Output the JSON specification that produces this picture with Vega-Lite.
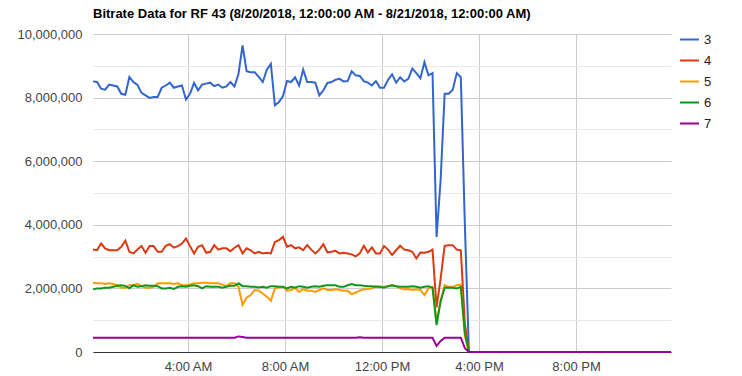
{
"width": 578, "height": 318,
"autosize": "none",
"padding": {"left": 93, "top": 34, "right": 71, "bottom": 24},
"background": "white",
"title": {"text": "Bitrate Data for RF 43 (8/20/2018, 12:00:00 AM - 8/21/2018, 12:00:00 AM)", "anchor": "start", "frame": "group", "fontSize": 13, "fontWeight": "bold", "color": "#000000", "offset": 7},
"config": {"view": {"stroke": null}, "font": "Liberation Sans"},
"data": {"values": [
{"s":"3","t":"2018-08-20T00:05Z","v":8510000},{"s":"3","t":"2018-08-20T00:15Z","v":8490000},{"s":"3","t":"2018-08-20T00:25Z","v":8280000},{"s":"3","t":"2018-08-20T00:35Z","v":8250000},{"s":"3","t":"2018-08-20T00:45Z","v":8410000},{"s":"3","t":"2018-08-20T00:55Z","v":8380000},
{"s":"3","t":"2018-08-20T01:05Z","v":8350000},{"s":"3","t":"2018-08-20T01:15Z","v":8120000},{"s":"3","t":"2018-08-20T01:25Z","v":8090000},{"s":"3","t":"2018-08-20T01:35Z","v":8650000},{"s":"3","t":"2018-08-20T01:45Z","v":8490000},{"s":"3","t":"2018-08-20T01:55Z","v":8400000},
{"s":"3","t":"2018-08-20T02:05Z","v":8150000},{"s":"3","t":"2018-08-20T02:15Z","v":8070000},{"s":"3","t":"2018-08-20T02:25Z","v":7990000},{"s":"3","t":"2018-08-20T02:35Z","v":8020000},{"s":"3","t":"2018-08-20T02:45Z","v":8020000},{"s":"3","t":"2018-08-20T02:55Z","v":8310000},
{"s":"3","t":"2018-08-20T03:05Z","v":8380000},{"s":"3","t":"2018-08-20T03:15Z","v":8470000},{"s":"3","t":"2018-08-20T03:25Z","v":8310000},{"s":"3","t":"2018-08-20T03:35Z","v":8350000},{"s":"3","t":"2018-08-20T03:45Z","v":8380000},{"s":"3","t":"2018-08-20T03:55Z","v":7940000},
{"s":"3","t":"2018-08-20T04:05Z","v":8120000},{"s":"3","t":"2018-08-20T04:15Z","v":8460000},{"s":"3","t":"2018-08-20T04:25Z","v":8230000},{"s":"3","t":"2018-08-20T04:35Z","v":8410000},{"s":"3","t":"2018-08-20T04:45Z","v":8440000},{"s":"3","t":"2018-08-20T04:55Z","v":8470000},
{"s":"3","t":"2018-08-20T05:05Z","v":8360000},{"s":"3","t":"2018-08-20T05:15Z","v":8410000},{"s":"3","t":"2018-08-20T05:25Z","v":8310000},{"s":"3","t":"2018-08-20T05:35Z","v":8350000},{"s":"3","t":"2018-08-20T05:45Z","v":8490000},{"s":"3","t":"2018-08-20T05:55Z","v":8350000},
{"s":"3","t":"2018-08-20T06:05Z","v":8750000},{"s":"3","t":"2018-08-20T06:15Z","v":9640000},{"s":"3","t":"2018-08-20T06:25Z","v":8830000},{"s":"3","t":"2018-08-20T06:35Z","v":8800000},{"s":"3","t":"2018-08-20T06:45Z","v":8800000},{"s":"3","t":"2018-08-20T06:55Z","v":8650000},
{"s":"3","t":"2018-08-20T07:05Z","v":8490000},{"s":"3","t":"2018-08-20T07:15Z","v":8880000},{"s":"3","t":"2018-08-20T07:25Z","v":9060000},{"s":"3","t":"2018-08-20T07:35Z","v":7760000},{"s":"3","t":"2018-08-20T07:45Z","v":7860000},{"s":"3","t":"2018-08-20T07:55Z","v":8050000},
{"s":"3","t":"2018-08-20T08:05Z","v":8520000},{"s":"3","t":"2018-08-20T08:15Z","v":8490000},{"s":"3","t":"2018-08-20T08:25Z","v":8640000},{"s":"3","t":"2018-08-20T08:35Z","v":8380000},{"s":"3","t":"2018-08-20T08:45Z","v":8880000},{"s":"3","t":"2018-08-20T08:55Z","v":8490000},
{"s":"3","t":"2018-08-20T09:05Z","v":8490000},{"s":"3","t":"2018-08-20T09:15Z","v":8470000},{"s":"3","t":"2018-08-20T09:25Z","v":8070000},{"s":"3","t":"2018-08-20T09:35Z","v":8230000},{"s":"3","t":"2018-08-20T09:45Z","v":8460000},{"s":"3","t":"2018-08-20T09:55Z","v":8490000},
{"s":"3","t":"2018-08-20T10:05Z","v":8560000},{"s":"3","t":"2018-08-20T10:15Z","v":8590000},{"s":"3","t":"2018-08-20T10:25Z","v":8510000},{"s":"3","t":"2018-08-20T10:35Z","v":8520000},{"s":"3","t":"2018-08-20T10:45Z","v":8830000},{"s":"3","t":"2018-08-20T10:55Z","v":8700000},
{"s":"3","t":"2018-08-20T11:05Z","v":8680000},{"s":"3","t":"2018-08-20T11:15Z","v":8520000},{"s":"3","t":"2018-08-20T11:25Z","v":8470000},{"s":"3","t":"2018-08-20T11:35Z","v":8380000},{"s":"3","t":"2018-08-20T11:45Z","v":8520000},{"s":"3","t":"2018-08-20T11:55Z","v":8310000},
{"s":"3","t":"2018-08-20T12:05Z","v":8310000},{"s":"3","t":"2018-08-20T12:15Z","v":8560000},{"s":"3","t":"2018-08-20T12:25Z","v":8730000},{"s":"3","t":"2018-08-20T12:35Z","v":8470000},{"s":"3","t":"2018-08-20T12:45Z","v":8640000},{"s":"3","t":"2018-08-20T12:55Z","v":8510000},
{"s":"3","t":"2018-08-20T13:05Z","v":8590000},{"s":"3","t":"2018-08-20T13:15Z","v":8910000},{"s":"3","t":"2018-08-20T13:25Z","v":8770000},{"s":"3","t":"2018-08-20T13:35Z","v":8610000},{"s":"3","t":"2018-08-20T13:45Z","v":9110000},{"s":"3","t":"2018-08-20T13:55Z","v":8700000},
{"s":"3","t":"2018-08-20T14:05Z","v":8770000},{"s":"3","t":"2018-08-20T14:15Z","v":3620000},{"s":"3","t":"2018-08-20T14:25Z","v":5400000},{"s":"3","t":"2018-08-20T14:35Z","v":8120000},{"s":"3","t":"2018-08-20T14:45Z","v":8120000},{"s":"3","t":"2018-08-20T14:55Z","v":8250000},
{"s":"3","t":"2018-08-20T15:05Z","v":8770000},{"s":"3","t":"2018-08-20T15:15Z","v":8640000},{"s":"3","t":"2018-08-20T15:25Z","v":4000000},{"s":"3","t":"2018-08-20T15:35Z","v":0},{"s":"3","t":"2018-08-20T15:45Z","v":0},{"s":"3","t":"2018-08-20T15:55Z","v":0},
{"s":"3","t":"2018-08-20T16:05Z","v":0},{"s":"3","t":"2018-08-20T16:15Z","v":0},{"s":"3","t":"2018-08-20T16:25Z","v":0},{"s":"3","t":"2018-08-20T16:35Z","v":0},{"s":"3","t":"2018-08-20T16:45Z","v":0},{"s":"3","t":"2018-08-20T16:55Z","v":0},
{"s":"3","t":"2018-08-20T17:05Z","v":0},{"s":"3","t":"2018-08-20T17:15Z","v":0},{"s":"3","t":"2018-08-20T17:25Z","v":0},{"s":"3","t":"2018-08-20T17:35Z","v":0},{"s":"3","t":"2018-08-20T17:45Z","v":0},{"s":"3","t":"2018-08-20T17:55Z","v":0},
{"s":"3","t":"2018-08-20T18:05Z","v":0},{"s":"3","t":"2018-08-20T18:15Z","v":0},{"s":"3","t":"2018-08-20T18:25Z","v":0},{"s":"3","t":"2018-08-20T18:35Z","v":0},{"s":"3","t":"2018-08-20T18:45Z","v":0},{"s":"3","t":"2018-08-20T18:55Z","v":0},
{"s":"3","t":"2018-08-20T19:05Z","v":0},{"s":"3","t":"2018-08-20T19:15Z","v":0},{"s":"3","t":"2018-08-20T19:25Z","v":0},{"s":"3","t":"2018-08-20T19:35Z","v":0},{"s":"3","t":"2018-08-20T19:45Z","v":0},{"s":"3","t":"2018-08-20T19:55Z","v":0},
{"s":"3","t":"2018-08-20T20:05Z","v":0},{"s":"3","t":"2018-08-20T20:15Z","v":0},{"s":"3","t":"2018-08-20T20:25Z","v":0},{"s":"3","t":"2018-08-20T20:35Z","v":0},{"s":"3","t":"2018-08-20T20:45Z","v":0},{"s":"3","t":"2018-08-20T20:55Z","v":0},
{"s":"3","t":"2018-08-20T21:05Z","v":0},{"s":"3","t":"2018-08-20T21:15Z","v":0},{"s":"3","t":"2018-08-20T21:25Z","v":0},{"s":"3","t":"2018-08-20T21:35Z","v":0},{"s":"3","t":"2018-08-20T21:45Z","v":0},{"s":"3","t":"2018-08-20T21:55Z","v":0},
{"s":"3","t":"2018-08-20T22:05Z","v":0},{"s":"3","t":"2018-08-20T22:15Z","v":0},{"s":"3","t":"2018-08-20T22:25Z","v":0},{"s":"3","t":"2018-08-20T22:35Z","v":0},{"s":"3","t":"2018-08-20T22:45Z","v":0},{"s":"3","t":"2018-08-20T22:55Z","v":0},
{"s":"3","t":"2018-08-20T23:05Z","v":0},{"s":"3","t":"2018-08-20T23:15Z","v":0},{"s":"3","t":"2018-08-20T23:25Z","v":0},{"s":"3","t":"2018-08-20T23:35Z","v":0},{"s":"3","t":"2018-08-20T23:45Z","v":0},{"s":"3","t":"2018-08-20T23:55Z","v":0},
{"s":"4","t":"2018-08-20T00:05Z","v":3220000},{"s":"4","t":"2018-08-20T00:15Z","v":3200000},{"s":"4","t":"2018-08-20T00:25Z","v":3410000},{"s":"4","t":"2018-08-20T00:35Z","v":3260000},{"s":"4","t":"2018-08-20T00:45Z","v":3200000},{"s":"4","t":"2018-08-20T00:55Z","v":3200000},
{"s":"4","t":"2018-08-20T01:05Z","v":3200000},{"s":"4","t":"2018-08-20T01:15Z","v":3310000},{"s":"4","t":"2018-08-20T01:25Z","v":3500000},{"s":"4","t":"2018-08-20T01:35Z","v":3150000},{"s":"4","t":"2018-08-20T01:45Z","v":3100000},{"s":"4","t":"2018-08-20T01:55Z","v":3220000},
{"s":"4","t":"2018-08-20T02:05Z","v":3330000},{"s":"4","t":"2018-08-20T02:15Z","v":3120000},{"s":"4","t":"2018-08-20T02:25Z","v":3330000},{"s":"4","t":"2018-08-20T02:35Z","v":3330000},{"s":"4","t":"2018-08-20T02:45Z","v":3150000},{"s":"4","t":"2018-08-20T02:55Z","v":3150000},
{"s":"4","t":"2018-08-20T03:05Z","v":3340000},{"s":"4","t":"2018-08-20T03:15Z","v":3390000},{"s":"4","t":"2018-08-20T03:25Z","v":3280000},{"s":"4","t":"2018-08-20T03:35Z","v":3330000},{"s":"4","t":"2018-08-20T03:45Z","v":3410000},{"s":"4","t":"2018-08-20T03:55Z","v":3570000},
{"s":"4","t":"2018-08-20T04:05Z","v":3330000},{"s":"4","t":"2018-08-20T04:15Z","v":3100000},{"s":"4","t":"2018-08-20T04:25Z","v":3310000},{"s":"4","t":"2018-08-20T04:35Z","v":3360000},{"s":"4","t":"2018-08-20T04:45Z","v":3120000},{"s":"4","t":"2018-08-20T04:55Z","v":3150000},
{"s":"4","t":"2018-08-20T05:05Z","v":3360000},{"s":"4","t":"2018-08-20T05:15Z","v":3220000},{"s":"4","t":"2018-08-20T05:25Z","v":3260000},{"s":"4","t":"2018-08-20T05:35Z","v":3260000},{"s":"4","t":"2018-08-20T05:45Z","v":3170000},{"s":"4","t":"2018-08-20T05:55Z","v":3280000},
{"s":"4","t":"2018-08-20T06:05Z","v":3360000},{"s":"4","t":"2018-08-20T06:15Z","v":3100000},{"s":"4","t":"2018-08-20T06:25Z","v":3260000},{"s":"4","t":"2018-08-20T06:35Z","v":3200000},{"s":"4","t":"2018-08-20T06:45Z","v":3100000},{"s":"4","t":"2018-08-20T06:55Z","v":3150000},
{"s":"4","t":"2018-08-20T07:05Z","v":3100000},{"s":"4","t":"2018-08-20T07:15Z","v":3120000},{"s":"4","t":"2018-08-20T07:25Z","v":3100000},{"s":"4","t":"2018-08-20T07:35Z","v":3460000},{"s":"4","t":"2018-08-20T07:45Z","v":3520000},{"s":"4","t":"2018-08-20T07:55Z","v":3620000},
{"s":"4","t":"2018-08-20T08:05Z","v":3310000},{"s":"4","t":"2018-08-20T08:15Z","v":3360000},{"s":"4","t":"2018-08-20T08:25Z","v":3260000},{"s":"4","t":"2018-08-20T08:35Z","v":3290000},{"s":"4","t":"2018-08-20T08:45Z","v":3200000},{"s":"4","t":"2018-08-20T08:55Z","v":3360000},
{"s":"4","t":"2018-08-20T09:05Z","v":3220000},{"s":"4","t":"2018-08-20T09:15Z","v":3100000},{"s":"4","t":"2018-08-20T09:25Z","v":3220000},{"s":"4","t":"2018-08-20T09:35Z","v":3390000},{"s":"4","t":"2018-08-20T09:45Z","v":3130000},{"s":"4","t":"2018-08-20T09:55Z","v":3150000},
{"s":"4","t":"2018-08-20T10:05Z","v":3180000},{"s":"4","t":"2018-08-20T10:15Z","v":3100000},{"s":"4","t":"2018-08-20T10:25Z","v":3120000},{"s":"4","t":"2018-08-20T10:35Z","v":3100000},{"s":"4","t":"2018-08-20T10:45Z","v":3070000},{"s":"4","t":"2018-08-20T10:55Z","v":3010000},
{"s":"4","t":"2018-08-20T11:05Z","v":3100000},{"s":"4","t":"2018-08-20T11:15Z","v":3340000},{"s":"4","t":"2018-08-20T11:25Z","v":3130000},{"s":"4","t":"2018-08-20T11:35Z","v":3290000},{"s":"4","t":"2018-08-20T11:45Z","v":3100000},{"s":"4","t":"2018-08-20T11:55Z","v":3100000},
{"s":"4","t":"2018-08-20T12:05Z","v":3330000},{"s":"4","t":"2018-08-20T12:15Z","v":3220000},{"s":"4","t":"2018-08-20T12:25Z","v":3050000},{"s":"4","t":"2018-08-20T12:35Z","v":3200000},{"s":"4","t":"2018-08-20T12:45Z","v":3340000},{"s":"4","t":"2018-08-20T12:55Z","v":3220000},
{"s":"4","t":"2018-08-20T13:05Z","v":3200000},{"s":"4","t":"2018-08-20T13:15Z","v":3150000},{"s":"4","t":"2018-08-20T13:25Z","v":2940000},{"s":"4","t":"2018-08-20T13:35Z","v":3130000},{"s":"4","t":"2018-08-20T13:45Z","v":3120000},{"s":"4","t":"2018-08-20T13:55Z","v":3150000},
{"s":"4","t":"2018-08-20T14:05Z","v":3220000},{"s":"4","t":"2018-08-20T14:15Z","v":1400000},{"s":"4","t":"2018-08-20T14:25Z","v":2300000},{"s":"4","t":"2018-08-20T14:35Z","v":3340000},{"s":"4","t":"2018-08-20T14:45Z","v":3360000},{"s":"4","t":"2018-08-20T14:55Z","v":3360000},
{"s":"4","t":"2018-08-20T15:05Z","v":3220000},{"s":"4","t":"2018-08-20T15:15Z","v":3200000},{"s":"4","t":"2018-08-20T15:25Z","v":900000},{"s":"4","t":"2018-08-20T15:35Z","v":0},{"s":"4","t":"2018-08-20T15:45Z","v":0},{"s":"4","t":"2018-08-20T15:55Z","v":0},
{"s":"4","t":"2018-08-20T16:05Z","v":0},{"s":"4","t":"2018-08-20T16:15Z","v":0},{"s":"4","t":"2018-08-20T16:25Z","v":0},{"s":"4","t":"2018-08-20T16:35Z","v":0},{"s":"4","t":"2018-08-20T16:45Z","v":0},{"s":"4","t":"2018-08-20T16:55Z","v":0},
{"s":"4","t":"2018-08-20T17:05Z","v":0},{"s":"4","t":"2018-08-20T17:15Z","v":0},{"s":"4","t":"2018-08-20T17:25Z","v":0},{"s":"4","t":"2018-08-20T17:35Z","v":0},{"s":"4","t":"2018-08-20T17:45Z","v":0},{"s":"4","t":"2018-08-20T17:55Z","v":0},
{"s":"4","t":"2018-08-20T18:05Z","v":0},{"s":"4","t":"2018-08-20T18:15Z","v":0},{"s":"4","t":"2018-08-20T18:25Z","v":0},{"s":"4","t":"2018-08-20T18:35Z","v":0},{"s":"4","t":"2018-08-20T18:45Z","v":0},{"s":"4","t":"2018-08-20T18:55Z","v":0},
{"s":"4","t":"2018-08-20T19:05Z","v":0},{"s":"4","t":"2018-08-20T19:15Z","v":0},{"s":"4","t":"2018-08-20T19:25Z","v":0},{"s":"4","t":"2018-08-20T19:35Z","v":0},{"s":"4","t":"2018-08-20T19:45Z","v":0},{"s":"4","t":"2018-08-20T19:55Z","v":0},
{"s":"4","t":"2018-08-20T20:05Z","v":0},{"s":"4","t":"2018-08-20T20:15Z","v":0},{"s":"4","t":"2018-08-20T20:25Z","v":0},{"s":"4","t":"2018-08-20T20:35Z","v":0},{"s":"4","t":"2018-08-20T20:45Z","v":0},{"s":"4","t":"2018-08-20T20:55Z","v":0},
{"s":"4","t":"2018-08-20T21:05Z","v":0},{"s":"4","t":"2018-08-20T21:15Z","v":0},{"s":"4","t":"2018-08-20T21:25Z","v":0},{"s":"4","t":"2018-08-20T21:35Z","v":0},{"s":"4","t":"2018-08-20T21:45Z","v":0},{"s":"4","t":"2018-08-20T21:55Z","v":0},
{"s":"4","t":"2018-08-20T22:05Z","v":0},{"s":"4","t":"2018-08-20T22:15Z","v":0},{"s":"4","t":"2018-08-20T22:25Z","v":0},{"s":"4","t":"2018-08-20T22:35Z","v":0},{"s":"4","t":"2018-08-20T22:45Z","v":0},{"s":"4","t":"2018-08-20T22:55Z","v":0},
{"s":"4","t":"2018-08-20T23:05Z","v":0},{"s":"4","t":"2018-08-20T23:15Z","v":0},{"s":"4","t":"2018-08-20T23:25Z","v":0},{"s":"4","t":"2018-08-20T23:35Z","v":0},{"s":"4","t":"2018-08-20T23:45Z","v":0},{"s":"4","t":"2018-08-20T23:55Z","v":0},
{"s":"5","t":"2018-08-20T00:05Z","v":2180000},{"s":"5","t":"2018-08-20T00:15Z","v":2160000},{"s":"5","t":"2018-08-20T00:25Z","v":2160000},{"s":"5","t":"2018-08-20T00:35Z","v":2140000},{"s":"5","t":"2018-08-20T00:45Z","v":2160000},{"s":"5","t":"2018-08-20T00:55Z","v":2140000},
{"s":"5","t":"2018-08-20T01:05Z","v":2100000},{"s":"5","t":"2018-08-20T01:15Z","v":2020000},{"s":"5","t":"2018-08-20T01:25Z","v":2020000},{"s":"5","t":"2018-08-20T01:35Z","v":2100000},{"s":"5","t":"2018-08-20T01:45Z","v":2100000},{"s":"5","t":"2018-08-20T01:55Z","v":2140000},
{"s":"5","t":"2018-08-20T02:05Z","v":2070000},{"s":"5","t":"2018-08-20T02:15Z","v":2020000},{"s":"5","t":"2018-08-20T02:25Z","v":2020000},{"s":"5","t":"2018-08-20T02:35Z","v":2050000},{"s":"5","t":"2018-08-20T02:45Z","v":2160000},{"s":"5","t":"2018-08-20T02:55Z","v":2160000},
{"s":"5","t":"2018-08-20T03:05Z","v":2160000},{"s":"5","t":"2018-08-20T03:15Z","v":2160000},{"s":"5","t":"2018-08-20T03:25Z","v":2140000},{"s":"5","t":"2018-08-20T03:35Z","v":2160000},{"s":"5","t":"2018-08-20T03:45Z","v":2100000},{"s":"5","t":"2018-08-20T03:55Z","v":2100000},
{"s":"5","t":"2018-08-20T04:05Z","v":2120000},{"s":"5","t":"2018-08-20T04:15Z","v":2160000},{"s":"5","t":"2018-08-20T04:25Z","v":2160000},{"s":"5","t":"2018-08-20T04:35Z","v":2180000},{"s":"5","t":"2018-08-20T04:45Z","v":2180000},{"s":"5","t":"2018-08-20T04:55Z","v":2160000},
{"s":"5","t":"2018-08-20T05:05Z","v":2160000},{"s":"5","t":"2018-08-20T05:15Z","v":2160000},{"s":"5","t":"2018-08-20T05:25Z","v":2120000},{"s":"5","t":"2018-08-20T05:35Z","v":2070000},{"s":"5","t":"2018-08-20T05:45Z","v":2160000},{"s":"5","t":"2018-08-20T05:55Z","v":2160000},
{"s":"5","t":"2018-08-20T06:05Z","v":2050000},{"s":"5","t":"2018-08-20T06:15Z","v":1480000},{"s":"5","t":"2018-08-20T06:25Z","v":1710000},{"s":"5","t":"2018-08-20T06:35Z","v":1790000},{"s":"5","t":"2018-08-20T06:45Z","v":1950000},{"s":"5","t":"2018-08-20T06:55Z","v":1930000},
{"s":"5","t":"2018-08-20T07:05Z","v":1840000},{"s":"5","t":"2018-08-20T07:15Z","v":1740000},{"s":"5","t":"2018-08-20T07:25Z","v":1610000},{"s":"5","t":"2018-08-20T07:35Z","v":2000000},{"s":"5","t":"2018-08-20T07:45Z","v":2030000},{"s":"5","t":"2018-08-20T07:55Z","v":2050000},
{"s":"5","t":"2018-08-20T08:05Z","v":1930000},{"s":"5","t":"2018-08-20T08:15Z","v":1950000},{"s":"5","t":"2018-08-20T08:25Z","v":2020000},{"s":"5","t":"2018-08-20T08:35Z","v":1890000},{"s":"5","t":"2018-08-20T08:45Z","v":1980000},{"s":"5","t":"2018-08-20T08:55Z","v":1930000},
{"s":"5","t":"2018-08-20T09:05Z","v":1930000},{"s":"5","t":"2018-08-20T09:15Z","v":1890000},{"s":"5","t":"2018-08-20T09:25Z","v":1950000},{"s":"5","t":"2018-08-20T09:35Z","v":2000000},{"s":"5","t":"2018-08-20T09:45Z","v":1950000},{"s":"5","t":"2018-08-20T09:55Z","v":1950000},
{"s":"5","t":"2018-08-20T10:05Z","v":1970000},{"s":"5","t":"2018-08-20T10:15Z","v":1950000},{"s":"5","t":"2018-08-20T10:25Z","v":1930000},{"s":"5","t":"2018-08-20T10:35Z","v":1930000},{"s":"5","t":"2018-08-20T10:45Z","v":1820000},{"s":"5","t":"2018-08-20T10:55Z","v":1870000},
{"s":"5","t":"2018-08-20T11:05Z","v":1930000},{"s":"5","t":"2018-08-20T11:15Z","v":1970000},{"s":"5","t":"2018-08-20T11:25Z","v":1980000},{"s":"5","t":"2018-08-20T11:35Z","v":2000000},{"s":"5","t":"2018-08-20T11:45Z","v":2070000},{"s":"5","t":"2018-08-20T11:55Z","v":2050000},
{"s":"5","t":"2018-08-20T12:05Z","v":2050000},{"s":"5","t":"2018-08-20T12:15Z","v":2070000},{"s":"5","t":"2018-08-20T12:25Z","v":2100000},{"s":"5","t":"2018-08-20T12:35Z","v":2070000},{"s":"5","t":"2018-08-20T12:45Z","v":2000000},{"s":"5","t":"2018-08-20T12:55Z","v":1970000},
{"s":"5","t":"2018-08-20T13:05Z","v":1980000},{"s":"5","t":"2018-08-20T13:15Z","v":1950000},{"s":"5","t":"2018-08-20T13:25Z","v":1970000},{"s":"5","t":"2018-08-20T13:35Z","v":1950000},{"s":"5","t":"2018-08-20T13:45Z","v":1790000},{"s":"5","t":"2018-08-20T13:55Z","v":2000000},
{"s":"5","t":"2018-08-20T14:05Z","v":2050000},{"s":"5","t":"2018-08-20T14:15Z","v":950000},{"s":"5","t":"2018-08-20T14:25Z","v":1600000},{"s":"5","t":"2018-08-20T14:35Z","v":2100000},{"s":"5","t":"2018-08-20T14:45Z","v":2050000},{"s":"5","t":"2018-08-20T14:55Z","v":2050000},
{"s":"5","t":"2018-08-20T15:05Z","v":2100000},{"s":"5","t":"2018-08-20T15:15Z","v":2120000},{"s":"5","t":"2018-08-20T15:25Z","v":500000},{"s":"5","t":"2018-08-20T15:35Z","v":0},{"s":"5","t":"2018-08-20T15:45Z","v":0},{"s":"5","t":"2018-08-20T15:55Z","v":0},
{"s":"5","t":"2018-08-20T16:05Z","v":0},{"s":"5","t":"2018-08-20T16:15Z","v":0},{"s":"5","t":"2018-08-20T16:25Z","v":0},{"s":"5","t":"2018-08-20T16:35Z","v":0},{"s":"5","t":"2018-08-20T16:45Z","v":0},{"s":"5","t":"2018-08-20T16:55Z","v":0},
{"s":"5","t":"2018-08-20T17:05Z","v":0},{"s":"5","t":"2018-08-20T17:15Z","v":0},{"s":"5","t":"2018-08-20T17:25Z","v":0},{"s":"5","t":"2018-08-20T17:35Z","v":0},{"s":"5","t":"2018-08-20T17:45Z","v":0},{"s":"5","t":"2018-08-20T17:55Z","v":0},
{"s":"5","t":"2018-08-20T18:05Z","v":0},{"s":"5","t":"2018-08-20T18:15Z","v":0},{"s":"5","t":"2018-08-20T18:25Z","v":0},{"s":"5","t":"2018-08-20T18:35Z","v":0},{"s":"5","t":"2018-08-20T18:45Z","v":0},{"s":"5","t":"2018-08-20T18:55Z","v":0},
{"s":"5","t":"2018-08-20T19:05Z","v":0},{"s":"5","t":"2018-08-20T19:15Z","v":0},{"s":"5","t":"2018-08-20T19:25Z","v":0},{"s":"5","t":"2018-08-20T19:35Z","v":0},{"s":"5","t":"2018-08-20T19:45Z","v":0},{"s":"5","t":"2018-08-20T19:55Z","v":0},
{"s":"5","t":"2018-08-20T20:05Z","v":0},{"s":"5","t":"2018-08-20T20:15Z","v":0},{"s":"5","t":"2018-08-20T20:25Z","v":0},{"s":"5","t":"2018-08-20T20:35Z","v":0},{"s":"5","t":"2018-08-20T20:45Z","v":0},{"s":"5","t":"2018-08-20T20:55Z","v":0},
{"s":"5","t":"2018-08-20T21:05Z","v":0},{"s":"5","t":"2018-08-20T21:15Z","v":0},{"s":"5","t":"2018-08-20T21:25Z","v":0},{"s":"5","t":"2018-08-20T21:35Z","v":0},{"s":"5","t":"2018-08-20T21:45Z","v":0},{"s":"5","t":"2018-08-20T21:55Z","v":0},
{"s":"5","t":"2018-08-20T22:05Z","v":0},{"s":"5","t":"2018-08-20T22:15Z","v":0},{"s":"5","t":"2018-08-20T22:25Z","v":0},{"s":"5","t":"2018-08-20T22:35Z","v":0},{"s":"5","t":"2018-08-20T22:45Z","v":0},{"s":"5","t":"2018-08-20T22:55Z","v":0},
{"s":"5","t":"2018-08-20T23:05Z","v":0},{"s":"5","t":"2018-08-20T23:15Z","v":0},{"s":"5","t":"2018-08-20T23:25Z","v":0},{"s":"5","t":"2018-08-20T23:35Z","v":0},{"s":"5","t":"2018-08-20T23:45Z","v":0},{"s":"5","t":"2018-08-20T23:55Z","v":0},
{"s":"6","t":"2018-08-20T00:05Z","v":1970000},{"s":"6","t":"2018-08-20T00:15Z","v":2000000},{"s":"6","t":"2018-08-20T00:25Z","v":2000000},{"s":"6","t":"2018-08-20T00:35Z","v":2020000},{"s":"6","t":"2018-08-20T00:45Z","v":2020000},{"s":"6","t":"2018-08-20T00:55Z","v":2050000},
{"s":"6","t":"2018-08-20T01:05Z","v":2080000},{"s":"6","t":"2018-08-20T01:15Z","v":2100000},{"s":"6","t":"2018-08-20T01:25Z","v":2080000},{"s":"6","t":"2018-08-20T01:35Z","v":2000000},{"s":"6","t":"2018-08-20T01:45Z","v":2100000},{"s":"6","t":"2018-08-20T01:55Z","v":2050000},
{"s":"6","t":"2018-08-20T02:05Z","v":2070000},{"s":"6","t":"2018-08-20T02:15Z","v":2100000},{"s":"6","t":"2018-08-20T02:25Z","v":2080000},{"s":"6","t":"2018-08-20T02:35Z","v":2080000},{"s":"6","t":"2018-08-20T02:45Z","v":2070000},{"s":"6","t":"2018-08-20T02:55Z","v":2000000},
{"s":"6","t":"2018-08-20T03:05Z","v":2000000},{"s":"6","t":"2018-08-20T03:15Z","v":2020000},{"s":"6","t":"2018-08-20T03:25Z","v":1980000},{"s":"6","t":"2018-08-20T03:35Z","v":2050000},{"s":"6","t":"2018-08-20T03:45Z","v":2070000},{"s":"6","t":"2018-08-20T03:55Z","v":2050000},
{"s":"6","t":"2018-08-20T04:05Z","v":2080000},{"s":"6","t":"2018-08-20T04:15Z","v":2100000},{"s":"6","t":"2018-08-20T04:25Z","v":2070000},{"s":"6","t":"2018-08-20T04:35Z","v":2000000},{"s":"6","t":"2018-08-20T04:45Z","v":2070000},{"s":"6","t":"2018-08-20T04:55Z","v":2050000},
{"s":"6","t":"2018-08-20T05:05Z","v":2050000},{"s":"6","t":"2018-08-20T05:15Z","v":2050000},{"s":"6","t":"2018-08-20T05:25Z","v":2020000},{"s":"6","t":"2018-08-20T05:35Z","v":2050000},{"s":"6","t":"2018-08-20T05:45Z","v":2080000},{"s":"6","t":"2018-08-20T05:55Z","v":2080000},
{"s":"6","t":"2018-08-20T06:05Z","v":2160000},{"s":"6","t":"2018-08-20T06:15Z","v":2070000},{"s":"6","t":"2018-08-20T06:25Z","v":2070000},{"s":"6","t":"2018-08-20T06:35Z","v":2050000},{"s":"6","t":"2018-08-20T06:45Z","v":2050000},{"s":"6","t":"2018-08-20T06:55Z","v":2030000},
{"s":"6","t":"2018-08-20T07:05Z","v":2050000},{"s":"6","t":"2018-08-20T07:15Z","v":2020000},{"s":"6","t":"2018-08-20T07:25Z","v":2070000},{"s":"6","t":"2018-08-20T07:35Z","v":2070000},{"s":"6","t":"2018-08-20T07:45Z","v":2050000},{"s":"6","t":"2018-08-20T07:55Z","v":2050000},
{"s":"6","t":"2018-08-20T08:05Z","v":2000000},{"s":"6","t":"2018-08-20T08:15Z","v":2050000},{"s":"6","t":"2018-08-20T08:25Z","v":2020000},{"s":"6","t":"2018-08-20T08:35Z","v":2070000},{"s":"6","t":"2018-08-20T08:45Z","v":2050000},{"s":"6","t":"2018-08-20T08:55Z","v":2020000},
{"s":"6","t":"2018-08-20T09:05Z","v":2050000},{"s":"6","t":"2018-08-20T09:15Z","v":2070000},{"s":"6","t":"2018-08-20T09:25Z","v":2050000},{"s":"6","t":"2018-08-20T09:35Z","v":2080000},{"s":"6","t":"2018-08-20T09:45Z","v":2100000},{"s":"6","t":"2018-08-20T09:55Z","v":2100000},
{"s":"6","t":"2018-08-20T10:05Z","v":2100000},{"s":"6","t":"2018-08-20T10:15Z","v":2050000},{"s":"6","t":"2018-08-20T10:25Z","v":2050000},{"s":"6","t":"2018-08-20T10:35Z","v":2100000},{"s":"6","t":"2018-08-20T10:45Z","v":2140000},{"s":"6","t":"2018-08-20T10:55Z","v":2100000},
{"s":"6","t":"2018-08-20T11:05Z","v":2100000},{"s":"6","t":"2018-08-20T11:15Z","v":2080000},{"s":"6","t":"2018-08-20T11:25Z","v":2070000},{"s":"6","t":"2018-08-20T11:35Z","v":2070000},{"s":"6","t":"2018-08-20T11:45Z","v":2050000},{"s":"6","t":"2018-08-20T11:55Z","v":2050000},
{"s":"6","t":"2018-08-20T12:05Z","v":2020000},{"s":"6","t":"2018-08-20T12:15Z","v":2070000},{"s":"6","t":"2018-08-20T12:25Z","v":2100000},{"s":"6","t":"2018-08-20T12:35Z","v":2070000},{"s":"6","t":"2018-08-20T12:45Z","v":2050000},{"s":"6","t":"2018-08-20T12:55Z","v":2050000},
{"s":"6","t":"2018-08-20T13:05Z","v":2050000},{"s":"6","t":"2018-08-20T13:15Z","v":2070000},{"s":"6","t":"2018-08-20T13:25Z","v":2050000},{"s":"6","t":"2018-08-20T13:35Z","v":2020000},{"s":"6","t":"2018-08-20T13:45Z","v":2050000},{"s":"6","t":"2018-08-20T13:55Z","v":2070000},
{"s":"6","t":"2018-08-20T14:05Z","v":2020000},{"s":"6","t":"2018-08-20T14:15Z","v":850000},{"s":"6","t":"2018-08-20T14:25Z","v":1600000},{"s":"6","t":"2018-08-20T14:35Z","v":2020000},{"s":"6","t":"2018-08-20T14:45Z","v":2020000},{"s":"6","t":"2018-08-20T14:55Z","v":2020000},
{"s":"6","t":"2018-08-20T15:05Z","v":2000000},{"s":"6","t":"2018-08-20T15:15Z","v":2050000},{"s":"6","t":"2018-08-20T15:25Z","v":600000},{"s":"6","t":"2018-08-20T15:35Z","v":0},{"s":"6","t":"2018-08-20T15:45Z","v":0},{"s":"6","t":"2018-08-20T15:55Z","v":0},
{"s":"6","t":"2018-08-20T16:05Z","v":0},{"s":"6","t":"2018-08-20T16:15Z","v":0},{"s":"6","t":"2018-08-20T16:25Z","v":0},{"s":"6","t":"2018-08-20T16:35Z","v":0},{"s":"6","t":"2018-08-20T16:45Z","v":0},{"s":"6","t":"2018-08-20T16:55Z","v":0},
{"s":"6","t":"2018-08-20T17:05Z","v":0},{"s":"6","t":"2018-08-20T17:15Z","v":0},{"s":"6","t":"2018-08-20T17:25Z","v":0},{"s":"6","t":"2018-08-20T17:35Z","v":0},{"s":"6","t":"2018-08-20T17:45Z","v":0},{"s":"6","t":"2018-08-20T17:55Z","v":0},
{"s":"6","t":"2018-08-20T18:05Z","v":0},{"s":"6","t":"2018-08-20T18:15Z","v":0},{"s":"6","t":"2018-08-20T18:25Z","v":0},{"s":"6","t":"2018-08-20T18:35Z","v":0},{"s":"6","t":"2018-08-20T18:45Z","v":0},{"s":"6","t":"2018-08-20T18:55Z","v":0},
{"s":"6","t":"2018-08-20T19:05Z","v":0},{"s":"6","t":"2018-08-20T19:15Z","v":0},{"s":"6","t":"2018-08-20T19:25Z","v":0},{"s":"6","t":"2018-08-20T19:35Z","v":0},{"s":"6","t":"2018-08-20T19:45Z","v":0},{"s":"6","t":"2018-08-20T19:55Z","v":0},
{"s":"6","t":"2018-08-20T20:05Z","v":0},{"s":"6","t":"2018-08-20T20:15Z","v":0},{"s":"6","t":"2018-08-20T20:25Z","v":0},{"s":"6","t":"2018-08-20T20:35Z","v":0},{"s":"6","t":"2018-08-20T20:45Z","v":0},{"s":"6","t":"2018-08-20T20:55Z","v":0},
{"s":"6","t":"2018-08-20T21:05Z","v":0},{"s":"6","t":"2018-08-20T21:15Z","v":0},{"s":"6","t":"2018-08-20T21:25Z","v":0},{"s":"6","t":"2018-08-20T21:35Z","v":0},{"s":"6","t":"2018-08-20T21:45Z","v":0},{"s":"6","t":"2018-08-20T21:55Z","v":0},
{"s":"6","t":"2018-08-20T22:05Z","v":0},{"s":"6","t":"2018-08-20T22:15Z","v":0},{"s":"6","t":"2018-08-20T22:25Z","v":0},{"s":"6","t":"2018-08-20T22:35Z","v":0},{"s":"6","t":"2018-08-20T22:45Z","v":0},{"s":"6","t":"2018-08-20T22:55Z","v":0},
{"s":"6","t":"2018-08-20T23:05Z","v":0},{"s":"6","t":"2018-08-20T23:15Z","v":0},{"s":"6","t":"2018-08-20T23:25Z","v":0},{"s":"6","t":"2018-08-20T23:35Z","v":0},{"s":"6","t":"2018-08-20T23:45Z","v":0},{"s":"6","t":"2018-08-20T23:55Z","v":0},
{"s":"7","t":"2018-08-20T00:05Z","v":450000},{"s":"7","t":"2018-08-20T00:15Z","v":450000},{"s":"7","t":"2018-08-20T00:25Z","v":450000},{"s":"7","t":"2018-08-20T00:35Z","v":450000},{"s":"7","t":"2018-08-20T00:45Z","v":450000},{"s":"7","t":"2018-08-20T00:55Z","v":450000},
{"s":"7","t":"2018-08-20T01:05Z","v":450000},{"s":"7","t":"2018-08-20T01:15Z","v":450000},{"s":"7","t":"2018-08-20T01:25Z","v":450000},{"s":"7","t":"2018-08-20T01:35Z","v":450000},{"s":"7","t":"2018-08-20T01:45Z","v":450000},{"s":"7","t":"2018-08-20T01:55Z","v":450000},
{"s":"7","t":"2018-08-20T02:05Z","v":450000},{"s":"7","t":"2018-08-20T02:15Z","v":450000},{"s":"7","t":"2018-08-20T02:25Z","v":450000},{"s":"7","t":"2018-08-20T02:35Z","v":450000},{"s":"7","t":"2018-08-20T02:45Z","v":450000},{"s":"7","t":"2018-08-20T02:55Z","v":450000},
{"s":"7","t":"2018-08-20T03:05Z","v":450000},{"s":"7","t":"2018-08-20T03:15Z","v":450000},{"s":"7","t":"2018-08-20T03:25Z","v":450000},{"s":"7","t":"2018-08-20T03:35Z","v":450000},{"s":"7","t":"2018-08-20T03:45Z","v":450000},{"s":"7","t":"2018-08-20T03:55Z","v":450000},
{"s":"7","t":"2018-08-20T04:05Z","v":450000},{"s":"7","t":"2018-08-20T04:15Z","v":450000},{"s":"7","t":"2018-08-20T04:25Z","v":450000},{"s":"7","t":"2018-08-20T04:35Z","v":450000},{"s":"7","t":"2018-08-20T04:45Z","v":450000},{"s":"7","t":"2018-08-20T04:55Z","v":450000},
{"s":"7","t":"2018-08-20T05:05Z","v":450000},{"s":"7","t":"2018-08-20T05:15Z","v":450000},{"s":"7","t":"2018-08-20T05:25Z","v":450000},{"s":"7","t":"2018-08-20T05:35Z","v":450000},{"s":"7","t":"2018-08-20T05:45Z","v":450000},{"s":"7","t":"2018-08-20T05:55Z","v":450000},
{"s":"7","t":"2018-08-20T06:05Z","v":490000},{"s":"7","t":"2018-08-20T06:15Z","v":470000},{"s":"7","t":"2018-08-20T06:25Z","v":450000},{"s":"7","t":"2018-08-20T06:35Z","v":450000},{"s":"7","t":"2018-08-20T06:45Z","v":450000},{"s":"7","t":"2018-08-20T06:55Z","v":450000},
{"s":"7","t":"2018-08-20T07:05Z","v":450000},{"s":"7","t":"2018-08-20T07:15Z","v":450000},{"s":"7","t":"2018-08-20T07:25Z","v":450000},{"s":"7","t":"2018-08-20T07:35Z","v":450000},{"s":"7","t":"2018-08-20T07:45Z","v":450000},{"s":"7","t":"2018-08-20T07:55Z","v":450000},
{"s":"7","t":"2018-08-20T08:05Z","v":450000},{"s":"7","t":"2018-08-20T08:15Z","v":450000},{"s":"7","t":"2018-08-20T08:25Z","v":450000},{"s":"7","t":"2018-08-20T08:35Z","v":450000},{"s":"7","t":"2018-08-20T08:45Z","v":450000},{"s":"7","t":"2018-08-20T08:55Z","v":450000},
{"s":"7","t":"2018-08-20T09:05Z","v":450000},{"s":"7","t":"2018-08-20T09:15Z","v":450000},{"s":"7","t":"2018-08-20T09:25Z","v":450000},{"s":"7","t":"2018-08-20T09:35Z","v":450000},{"s":"7","t":"2018-08-20T09:45Z","v":450000},{"s":"7","t":"2018-08-20T09:55Z","v":450000},
{"s":"7","t":"2018-08-20T10:05Z","v":450000},{"s":"7","t":"2018-08-20T10:15Z","v":450000},{"s":"7","t":"2018-08-20T10:25Z","v":450000},{"s":"7","t":"2018-08-20T10:35Z","v":450000},{"s":"7","t":"2018-08-20T10:45Z","v":450000},{"s":"7","t":"2018-08-20T10:55Z","v":450000},
{"s":"7","t":"2018-08-20T11:05Z","v":460000},{"s":"7","t":"2018-08-20T11:15Z","v":450000},{"s":"7","t":"2018-08-20T11:25Z","v":450000},{"s":"7","t":"2018-08-20T11:35Z","v":450000},{"s":"7","t":"2018-08-20T11:45Z","v":450000},{"s":"7","t":"2018-08-20T11:55Z","v":450000},
{"s":"7","t":"2018-08-20T12:05Z","v":450000},{"s":"7","t":"2018-08-20T12:15Z","v":450000},{"s":"7","t":"2018-08-20T12:25Z","v":450000},{"s":"7","t":"2018-08-20T12:35Z","v":450000},{"s":"7","t":"2018-08-20T12:45Z","v":450000},{"s":"7","t":"2018-08-20T12:55Z","v":450000},
{"s":"7","t":"2018-08-20T13:05Z","v":450000},{"s":"7","t":"2018-08-20T13:15Z","v":450000},{"s":"7","t":"2018-08-20T13:25Z","v":450000},{"s":"7","t":"2018-08-20T13:35Z","v":450000},{"s":"7","t":"2018-08-20T13:45Z","v":450000},{"s":"7","t":"2018-08-20T13:55Z","v":450000},
{"s":"7","t":"2018-08-20T14:05Z","v":450000},{"s":"7","t":"2018-08-20T14:15Z","v":190000},{"s":"7","t":"2018-08-20T14:25Z","v":350000},{"s":"7","t":"2018-08-20T14:35Z","v":450000},{"s":"7","t":"2018-08-20T14:45Z","v":450000},{"s":"7","t":"2018-08-20T14:55Z","v":450000},
{"s":"7","t":"2018-08-20T15:05Z","v":450000},{"s":"7","t":"2018-08-20T15:15Z","v":450000},{"s":"7","t":"2018-08-20T15:25Z","v":120000},{"s":"7","t":"2018-08-20T15:35Z","v":0},{"s":"7","t":"2018-08-20T15:45Z","v":0},{"s":"7","t":"2018-08-20T15:55Z","v":0},
{"s":"7","t":"2018-08-20T16:05Z","v":0},{"s":"7","t":"2018-08-20T16:15Z","v":0},{"s":"7","t":"2018-08-20T16:25Z","v":0},{"s":"7","t":"2018-08-20T16:35Z","v":0},{"s":"7","t":"2018-08-20T16:45Z","v":0},{"s":"7","t":"2018-08-20T16:55Z","v":0},
{"s":"7","t":"2018-08-20T17:05Z","v":0},{"s":"7","t":"2018-08-20T17:15Z","v":0},{"s":"7","t":"2018-08-20T17:25Z","v":0},{"s":"7","t":"2018-08-20T17:35Z","v":0},{"s":"7","t":"2018-08-20T17:45Z","v":0},{"s":"7","t":"2018-08-20T17:55Z","v":0},
{"s":"7","t":"2018-08-20T18:05Z","v":0},{"s":"7","t":"2018-08-20T18:15Z","v":0},{"s":"7","t":"2018-08-20T18:25Z","v":0},{"s":"7","t":"2018-08-20T18:35Z","v":0},{"s":"7","t":"2018-08-20T18:45Z","v":0},{"s":"7","t":"2018-08-20T18:55Z","v":0},
{"s":"7","t":"2018-08-20T19:05Z","v":0},{"s":"7","t":"2018-08-20T19:15Z","v":0},{"s":"7","t":"2018-08-20T19:25Z","v":0},{"s":"7","t":"2018-08-20T19:35Z","v":0},{"s":"7","t":"2018-08-20T19:45Z","v":0},{"s":"7","t":"2018-08-20T19:55Z","v":0},
{"s":"7","t":"2018-08-20T20:05Z","v":0},{"s":"7","t":"2018-08-20T20:15Z","v":0},{"s":"7","t":"2018-08-20T20:25Z","v":0},{"s":"7","t":"2018-08-20T20:35Z","v":0},{"s":"7","t":"2018-08-20T20:45Z","v":0},{"s":"7","t":"2018-08-20T20:55Z","v":0},
{"s":"7","t":"2018-08-20T21:05Z","v":0},{"s":"7","t":"2018-08-20T21:15Z","v":0},{"s":"7","t":"2018-08-20T21:25Z","v":0},{"s":"7","t":"2018-08-20T21:35Z","v":0},{"s":"7","t":"2018-08-20T21:45Z","v":0},{"s":"7","t":"2018-08-20T21:55Z","v":0},
{"s":"7","t":"2018-08-20T22:05Z","v":0},{"s":"7","t":"2018-08-20T22:15Z","v":0},{"s":"7","t":"2018-08-20T22:25Z","v":0},{"s":"7","t":"2018-08-20T22:35Z","v":0},{"s":"7","t":"2018-08-20T22:45Z","v":0},{"s":"7","t":"2018-08-20T22:55Z","v":0},
{"s":"7","t":"2018-08-20T23:05Z","v":0},{"s":"7","t":"2018-08-20T23:15Z","v":0},{"s":"7","t":"2018-08-20T23:25Z","v":0},{"s":"7","t":"2018-08-20T23:35Z","v":0},{"s":"7","t":"2018-08-20T23:45Z","v":0},{"s":"7","t":"2018-08-20T23:55Z","v":0}
]},
"mark": {"type": "line", "strokeWidth": 2},
"encoding": {
  "x": {"field": "t", "type": "temporal", "scale": {"type": "utc", "nice": false},
    "axis": {"title": null,
      "values": [{"year": 2018, "month": 8, "date": 20, "hours": 4, "utc": true}, {"year": 2018, "month": 8, "date": 20, "hours": 8, "utc": true}, {"year": 2018, "month": 8, "date": 20, "hours": 12, "utc": true}, {"year": 2018, "month": 8, "date": 20, "hours": 16, "utc": true}, {"year": 2018, "month": 8, "date": 20, "hours": 20, "utc": true}],
      "format": "%-I:%M %p", "labelFontSize": 13, "labelColor": "#444444", "labelPadding": 8,
      "grid": true, "gridColor": "#cccccc", "ticks": false, "domainColor": "#333333"}},
  "y": {"field": "v", "type": "quantitative", "scale": {"domain": [0, 10000000], "nice": false},
    "axis": {"title": null, "values": [0,1000000,2000000,3000000,4000000,5000000,6000000,7000000,8000000,9000000,10000000], "format": ",.0f",
      "labelExpr": "datum.value % 2000000 === 0 ? datum.label : ''",
      "labelFontSize": 13, "labelColor": "#444444", "labelPadding": 11, "ticks": false, "domain": false,
      "gridColor": {"condition": {"test": "datum.value % 2000000 === 0", "value": "#cccccc"}, "value": "#e8e8e8"}}},
  "color": {"field": "s", "type": "nominal",
    "scale": {"domain": ["3","4","5","6","7"], "range": ["#3366cc","#dc3912","#ff9900","#109618","#990099"]},
    "legend": {"title": null, "orient": "none", "legendX": 586, "legendY": -5, "padding": 0, "symbolSize": 361, "symbolStrokeWidth": 2, "labelFontSize": 13, "labelColor": "#222222", "rowPadding": 3}}
}
}
